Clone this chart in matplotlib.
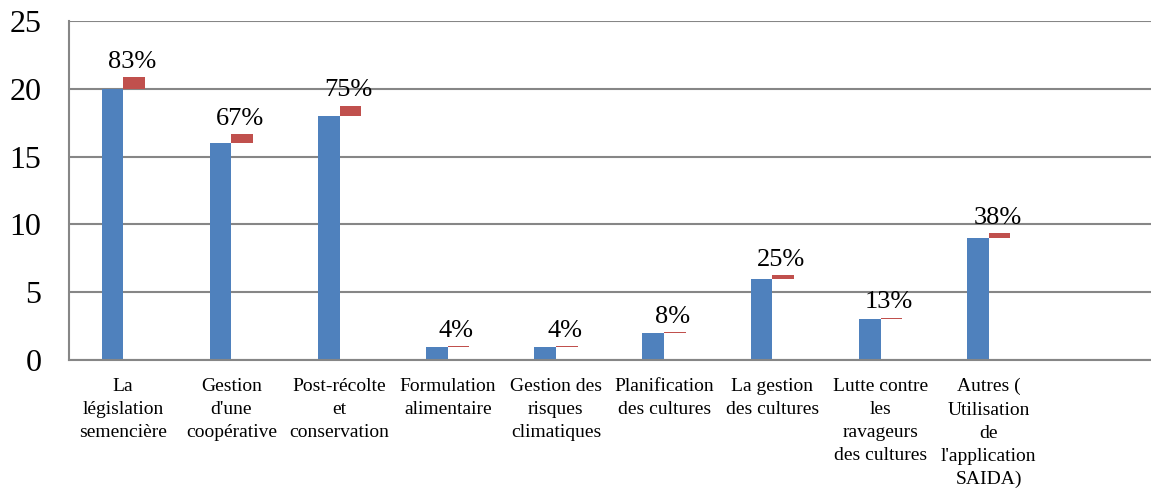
import matplotlib
matplotlib.use("Agg")
import matplotlib.pyplot as plt
import numpy as np

categories = [
    "La\nlégislation\nsemencière",
    "Gestion\nd'une\ncoopérative",
    "Post-récolte\net\nconservation",
    "Formulation\nalimentaire",
    "Gestion des\nrisques\nclimatiques",
    "Planification\ndes cultures",
    "La gestion\ndes cultures",
    "Lutte contre\nles\nravageurs\ndes cultures",
    "Autres (\nUtilisation\nde\nl'application\nSAIDA)",
    "",
]
counts = [20, 16, 18, 1, 1, 2, 6, 3, 9, None]
percents = [83, 67, 75, 4, 4, 8, 25, 13, 38, None]
yticks = [0, 5, 10, 15, 20, 25]

plt.rcParams['font.family'] = ['Liberation Serif', 'DejaVu Serif']

fig = plt.figure(figsize=(11.51, 4.96), dpi=100)
ax = fig.add_axes([0.06, 0.274, 0.94, 0.684])

blue = '#4F81BD'
red = '#C0504D'
w = 0.2
x = np.arange(len(categories))
for i, (c, p) in enumerate(zip(counts, percents)):
    if c is None:
        continue
    ax.bar(i - w, c, width=w, align='edge', color=blue, zorder=3)
    ax.bar(i, p / 100, bottom=c, width=w, align='edge', color=red, zorder=3)
    ax.annotate(f"{p}%", xy=(i + w / 2 - 0.02, c + p / 100), xytext=(0, 3),
                textcoords='offset points', ha='center', va='bottom', fontsize=19)

ax.set_xlim(-0.5, len(categories) - 0.5)
ax.set_ylim(0, 25)
ax.set_yticks(yticks)
ax.set_yticklabels([str(t) for t in yticks], fontsize=23)
ax.set_xticks(x)
ax.set_xticklabels(categories, fontsize=14, linespacing=1.47)
ax.tick_params(axis='both', length=0)
ax.tick_params(axis='x', pad=13)
ax.tick_params(axis='y', pad=20)
ax.grid(axis='y', color='#868686', linewidth=1.5, zorder=0)
for s in ['top', 'right']:
    ax.spines[s].set_visible(False)
for s in ['left', 'bottom']:
    ax.spines[s].set_color('#868686')
    ax.spines[s].set_linewidth(1.5)
    ax.spines[s].set_zorder(4)

fig.savefig('out.png', dpi=100)
